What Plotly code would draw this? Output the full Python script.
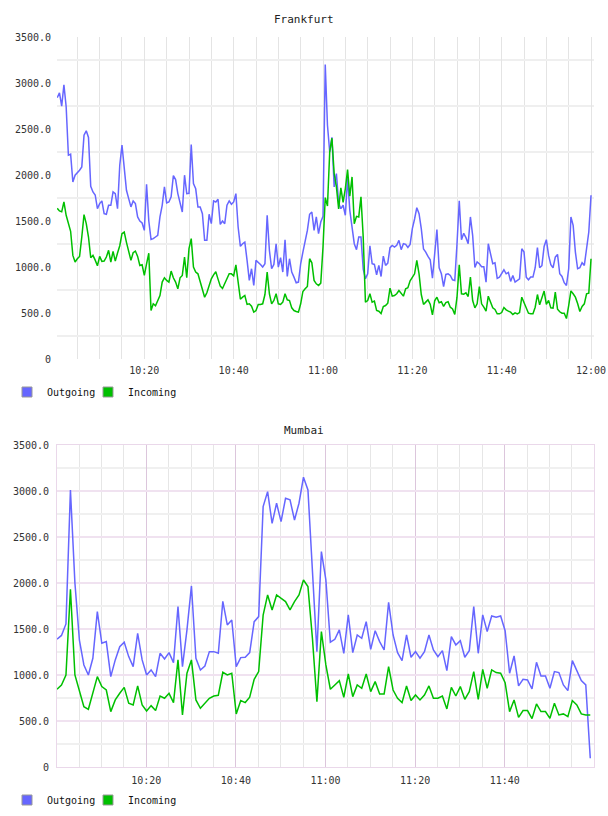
import plotly.graph_objects as go
import pandas as pd

# ---------------- data ----------------
SERIES_NAMES = ["Outgoing", "Incoming"]
CHART_TITLES = ["Frankfurt", "Mumbai"]

# Frankfurt: samples every 30 s starting 10:00:30
FRANKFURT_START = "2024-01-01 10:00:30"
FRANKFURT_OUT = [
    2840, 2894, 2749, 2981, 2742, 2215, 2226, 1925, 1998, 2023,
    2052, 2088, 2433, 2480, 2408, 1878, 1816, 1783, 1634, 1689,
    1718, 1580, 1573, 1671, 1671, 1816, 1798, 1634, 2106, 2324,
    2070, 1834, 1743, 1653, 1718, 1689, 1544, 1500, 1478, 1398,
    1900, 1500, 1300, 1308, 1326, 1344, 1544, 1671, 1870, 1696,
    1707, 1762, 1994, 1950, 1798, 1689, 1598, 1998, 1798, 1800,
    2330, 1907, 1850, 1653, 1653, 1580, 1290, 1290, 1573, 1471,
    1718, 1707, 1736, 1464, 1500, 1471, 1671, 1718, 1682, 1707,
    1798, 1435, 1224, 1253, 1271, 1072, 854, 981, 799, 1072,
    1054, 1028, 999, 1035, 1562, 1181, 981, 1028, 1253, 999,
    1101, 945, 1297, 897, 1090, 945, 890, 829, 836, 1035,
    1162, 1268, 1398, 1573, 1598, 1398, 1544, 1362, 1489, 1550,
    3200, 2540, 2250, 2410, 1870, 2016, 1696, 1634, 1671, 1562,
    1972, 1616, 1446, 1253, 1188, 1326, 1326, 977, 872, 926,
    1231, 1035, 1028, 916, 1017, 897, 1119, 1017, 1043, 1210,
    1235, 1217, 1235, 1290, 1188, 1253, 1246, 1213, 1246, 1417,
    1522, 1645, 1580, 1417, 1195, 1162, 1115, 1079, 879, 1144,
    1406, 992, 926, 788, 919, 926, 908, 861, 854, 1253,
    1720, 1297, 1366, 1319, 1253, 1544, 1344, 995, 1054, 1035,
    1003, 1003, 836, 1253, 1126, 1035, 1046, 876, 890, 926,
    970, 926, 941, 843, 908, 836, 854, 872, 1199, 1162,
    890, 861, 890, 890, 992, 1210, 992, 1014, 1224, 1297,
    1126, 1024, 992, 1108, 1137, 926, 897, 829, 799, 981,
    1544, 1453, 1162, 981, 992, 1046, 1017, 1199, 1380, 1780,
]
FRANKFURT_IN = [
    1638, 1609, 1600, 1707, 1562, 1478, 1388, 1126, 1054, 1090,
    1115, 1326, 1569, 1471, 1326, 1101, 1126, 1075, 1014, 1115,
    1061, 1064, 1108, 1181, 1054, 1170, 1064, 1152, 1231, 1362,
    1380, 1268, 1162, 1072, 1155, 1173, 1115, 1017, 1024, 908,
    1035, 1150, 527, 600, 578, 636, 690, 836, 883, 854,
    836, 956, 883, 836, 763, 883, 908, 1108, 883, 1200,
    1308, 999, 945, 926, 832, 734, 672, 720, 788, 872,
    915, 948, 868, 792, 767, 825, 876, 926, 926, 905,
    1024, 854, 650, 672, 690, 593, 600, 574, 509, 527,
    593, 593, 600, 701, 945, 709, 600, 636, 709, 600,
    593, 618, 709, 643, 636, 556, 527, 516, 509, 600,
    734, 763, 788, 1090, 1046, 854, 817, 799, 825, 1217,
    1754, 1663, 2250, 2400, 2016, 1870, 1631, 1860, 1703, 1852,
    2059, 1769, 1979, 1471, 1551, 1544, 1762, 1326, 618, 636,
    709, 618, 629, 527, 520, 494, 571, 581, 607, 770,
    683, 690, 709, 745, 709, 683, 763, 774, 850, 883,
    926, 1072, 926, 701, 593, 618, 643, 596, 480, 632,
    672, 611, 622, 571, 614, 622, 563, 545, 484, 672,
    1024, 709, 705, 719, 679, 890, 636, 556, 600, 788,
    600, 563, 520, 683, 618, 556, 538, 491, 491, 505,
    560, 534, 520, 509, 484, 502, 491, 505, 672, 618,
    552, 498, 491, 491, 563, 701, 589, 661, 738, 593,
    636, 556, 552, 727, 542, 513, 498, 498, 440, 581,
    741, 709, 672, 603, 516, 571, 600, 709, 716, 1090,
]

# Mumbai: samples every 60 s starting 10:00:05
MUMBAI_START = "2024-01-01 10:00:05"
MUMBAI_OUT = [
    1390, 1430, 1555, 3010, 2000, 1380, 1109, 1000, 1182, 1689,
    1345, 1363, 982, 1164, 1308, 1356, 1200, 1091, 1453, 1164,
    1000, 1055, 982, 1236, 1174, 1243, 1135, 1743, 1091, 1490,
    1968, 1182, 1055, 1098, 1254, 1254, 1236, 1800, 1544, 1598,
    1091, 1189, 1193, 1243, 1580, 1635, 2830, 2993, 2649, 2867,
    2667, 2921, 2903, 2685, 2867, 3150, 3011, 2200, 1254, 2341,
    2033, 1356, 1388, 1490, 1236, 1653, 1243, 1435, 1399, 1580,
    1279, 1482, 1363, 1272, 1790, 1435, 1243, 1156, 1435, 1193,
    1254, 1182, 1254, 1435, 1272, 1200, 1265, 1048, 1417, 1327,
    1374, 1193, 1265, 1743, 1236, 1653, 1472, 1642, 1627, 1642,
    1482, 1019, 1207, 881, 953, 946, 848, 1138, 990, 990,
    856, 1037, 1026, 892, 830, 1156, 1037, 939, 892, 95,
]
MUMBAI_IN = [
    845, 892, 1000, 1932, 1000, 837, 656, 627, 801, 982,
    874, 837, 602, 729, 801, 866, 693, 674, 881, 674,
    609, 667, 613, 772, 747, 801, 700, 1164, 566, 1019,
    1164, 729, 638, 693, 747, 772, 780, 1030, 1000, 1019,
    577, 722, 700, 758, 953, 1037, 1650, 1870, 1707, 1870,
    1834, 1798, 1707, 1798, 1870, 2033, 1961, 1400, 711, 1472,
    1109, 845, 892, 939, 758, 1011, 765, 892, 856, 1011,
    819, 928, 794, 794, 1091, 837, 747, 700, 881, 722,
    783, 729, 783, 881, 747, 747, 772, 631, 866, 772,
    874, 736, 819, 1037, 736, 1062, 856, 1055, 1026, 1019,
    917, 602, 729, 540, 613, 613, 526, 685, 602, 602,
    529, 693, 566, 577, 548, 722, 674, 577, 566, 566,
]

Y_TICK_VALUES = [0, 500, 1000, 1500, 2000, 2500, 3000, 3500]
Y_TICK_LABELS = ["0", "500.0", "1000.0", "1500.0", "2000.0", "2500.0", "3000.0", "3500.0"]
Y_MINOR_VALUES = [250, 750, 1250, 1750, 2250, 2750, 3250]

# ---------------- styling ----------------
W, H = 608, 816
BLUE = "#6666ff"
GREEN = "#00c000"
COLORS = [BLUE, GREEN]
MONO = "DejaVu Sans Mono"
TXT = "#333333"

fra_t = pd.date_range(FRANKFURT_START, periods=len(FRANKFURT_OUT), freq="30s")
mum_t = pd.date_range(MUMBAI_START, periods=len(MUMBAI_OUT), freq="60s")

fig = go.Figure()

for vals, name, col in zip([FRANKFURT_OUT, FRANKFURT_IN], SERIES_NAMES, COLORS):
    fig.add_trace(go.Scatter(x=fra_t, y=vals, mode="lines", name=name,
                             line=dict(color=col, width=1.5), showlegend=False,
                             xaxis="x", yaxis="y", hoverinfo="skip"))
for vals, name, col in zip([MUMBAI_OUT, MUMBAI_IN], SERIES_NAMES, COLORS):
    fig.add_trace(go.Scatter(x=mum_t, y=vals, mode="lines", name=name,
                             line=dict(color=col, width=1.5), showlegend=False,
                             xaxis="x2", yaxis="y2", hoverinfo="skip"))

# legend swatches: one single-entry legend per series per chart
LEGEND_IDS = [["legend", "legend2"], ["legend3", "legend4"]]
for (xa, ya), legs in zip([("x", "y"), ("x2", "y2")], LEGEND_IDS):
    for name, col, leg in zip(SERIES_NAMES, COLORS, legs):
        fig.add_trace(go.Scatter(x=[None], y=[None], mode="markers", name=name,
                                 marker=dict(symbol="square", size=10, color=col,
                                             line=dict(color="#999999", width=1)),
                                 legend=leg, xaxis=xa, yaxis=ya, showlegend=True))

xdom = [57 / W, 594 / W]
top_dom = [1 - 359 / H, 1 - 37 / H]
bot_dom = [1 - 767 / H, 1 - 445 / H]

tickfont = dict(family=MONO, size=10, color=TXT)

common_x = dict(type="date", domain=xdom, tickformat="%H:%M", tick0="2024-01-01 10:00:00",
                dtick=20 * 60 * 1000, ticks="", zeroline=False, tickfont=tickfont,
                ticklabelstandoff=4, fixedrange=True)

legend_common = dict(orientation="h", xanchor="left", yanchor="middle",
                     font=dict(family=MONO, size=10, color="#111111"),
                     bgcolor="rgba(0,0,0,0)", itemwidth=30,
                     itemclick=False, itemdoubleclick=False)

LEG_X = [7, 88]          # px, left of each legend entry
LEG_Y = [392, 800]       # px, centre line of legend rows

fig.update_layout(
    width=W, height=H, autosize=False,
    margin=dict(l=0, r=0, t=0, b=0, pad=0, autoexpand=False),
    paper_bgcolor="white", plot_bgcolor="white",
    xaxis=dict(**common_x, anchor="y",
               range=["2024-01-01 10:00:27", "2024-01-01 12:00:40"],
               showgrid=True, gridcolor="#e4e4e4", gridwidth=1, showline=False,
               minor=dict(dtick=5 * 60 * 1000, tick0="2024-01-01 10:00:00",
                          showgrid=True, gridcolor="#e4e4e4", gridwidth=1)),
    yaxis=dict(domain=top_dom, anchor="x", range=[0, 3500], tickmode="array",
               tickvals=Y_TICK_VALUES, ticktext=Y_TICK_LABELS, showgrid=False,
               zeroline=False, ticks="", tickfont=tickfont, ticklabelstandoff=5,
               showline=False, fixedrange=True,
               minor=dict(tickmode="array", tickvals=Y_MINOR_VALUES, showgrid=True,
                          gridcolor="#efefef", gridwidth=2)),
    xaxis2=dict(**common_x, anchor="y2",
                range=["2024-01-01 10:00:05", "2024-01-01 11:59:55"],
                showgrid=True, gridcolor="#dcc6dc", gridwidth=1,
                showline=True, mirror=True, linecolor="#ead8ea", linewidth=1,
                minor=dict(dtick=5 * 60 * 1000, tick0="2024-01-01 10:00:00",
                           showgrid=True, gridcolor="#e6e6e6", gridwidth=1)),
    yaxis2=dict(domain=bot_dom, anchor="x2", range=[0, 3500], tickmode="array",
                tickvals=Y_TICK_VALUES, ticktext=Y_TICK_LABELS, showgrid=True,
                gridcolor="#f0e2f0", gridwidth=2,
                zeroline=False, ticks="", tickfont=tickfont, ticklabelstandoff=5,
                showline=True, mirror=True, linecolor="#ead8ea", linewidth=1,
                fixedrange=True,
                minor=dict(tickmode="array", tickvals=Y_MINOR_VALUES, showgrid=True,
                           gridcolor="#f0f0f0", gridwidth=2)),
    legend=dict(**legend_common, x=LEG_X[0] / W, y=1 - LEG_Y[0] / H),
    legend2=dict(**legend_common, x=LEG_X[1] / W, y=1 - LEG_Y[0] / H),
    legend3=dict(**legend_common, x=LEG_X[0] / W, y=1 - LEG_Y[1] / H),
    legend4=dict(**legend_common, x=LEG_X[1] / W, y=1 - LEG_Y[1] / H),
    annotations=[
        dict(text=CHART_TITLES[0], x=0.5, y=1 - 19 / H, xref="paper", yref="paper",
             showarrow=False, xanchor="center", yanchor="middle",
             font=dict(family=MONO, size=11, color="#222222")),
        dict(text=CHART_TITLES[1], x=0.5, y=1 - 430 / H, xref="paper", yref="paper",
             showarrow=False, xanchor="center", yanchor="middle",
             font=dict(family=MONO, size=11, color="#222222")),
    ],
)

fig.write_html("out.html", config={"displayModeBar": False})
